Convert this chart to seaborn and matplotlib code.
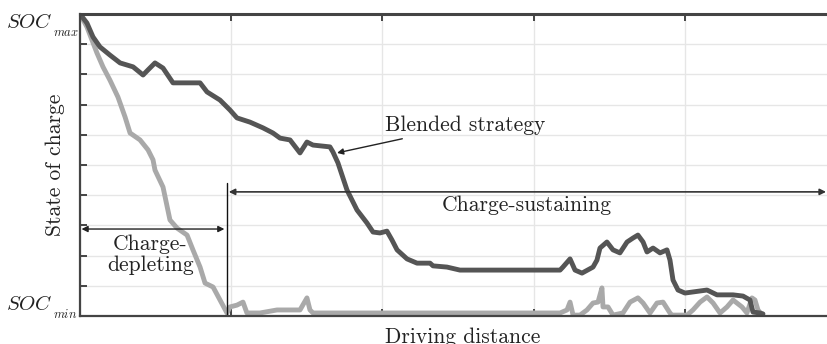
import matplotlib
matplotlib.use("Agg")
import matplotlib.pyplot as plt
import seaborn as sns
import pandas as pd

# ---- data (distance in arbitrary units, SOC in % between SOC_min=0 and SOC_max=100)
blended_x = [0, 4.6, 8.6, 13.2, 19.8, 26.5, 35.1, 41.7, 45.0, 49.6, 54.9, 61.5, 70.8, 79.4,
             84.0, 92.6, 99.2, 103.8, 112.4, 121.0, 127.6, 132.3, 138.9, 145.5, 150.1, 154.1,
             165.3, 167.3, 170.6, 176.6, 183.2, 189.8, 193.8, 198.4, 203.0, 206.3, 209.7,
             216.3, 222.9, 231.5, 233.5, 242.7, 251.3, 286.4, 317.5, 319.4, 324.1, 327.4,
             332.0, 339.3, 341.9, 343.9, 348.5, 352.5, 357.1, 361.8, 365.7, 369.0, 372.4,
             375.0, 379.0, 383.6, 388.2, 390.2, 392.2, 395.5, 400.1, 414.7, 421.3, 431.9,
             438.5, 443.1, 445.1, 449.7, 451.7]
blended_soc = [100, 97.0, 92.4, 89.1, 86.4, 83.8, 82.5, 79.8, 81.5, 83.8, 82.1, 77.2, 77.2, 77.2,
               74.2, 71.5, 68.2, 65.6, 64.2, 62.3, 60.6, 58.9, 58.3, 54.0, 57.6, 56.6,
               56.0, 54.3, 50.7, 41.7, 35.1, 30.8, 27.8, 27.5, 28.1, 25.2, 21.9,
               18.9, 17.5, 17.5, 16.6, 16.2, 15.2, 15.2, 15.2, 16.2, 18.9, 15.2,
               14.2, 16.2, 18.5, 22.5, 24.5, 21.9, 20.9, 24.5, 25.8, 26.8, 24.5,
               21.2, 22.5, 20.9, 21.9, 18.5, 11.9, 8.6, 7.6, 8.6, 7.0, 7.0,
               6.6, 5.3, 1.3, 1.0, 0.7]

cdcs_x = [0, 4.6, 7.9, 11.2, 15.2, 19.8, 25.1, 29.8, 33.1, 39.7, 45.0, 48.3, 49.6, 54.9,
          59.5, 64.2, 70.8, 74.7, 79.4, 82.7, 88.0, 92.6, 97.2, 99.2, 103.8, 107.8, 110.4,
          119.0, 130.3, 145.5, 150.1, 152.1, 154.1, 317.5, 322.1, 324.1, 326.1, 330.7,
          335.3, 339.3, 342.6, 345.2, 345.9, 349.2, 352.5, 359.1, 363.8, 369.0, 372.4,
          377.0, 381.6, 385.6, 390.2, 391.5, 401.5, 405.4, 410.1, 414.7, 418.7, 423.3,
          427.9, 431.9, 437.8, 441.1, 444.4, 446.4, 448.4, 451.1]
cdcs_soc = [100, 95.7, 91.4, 87.1, 82.5, 78.1, 72.5, 65.9, 60.6, 58.3, 55.0, 51.7, 48.3, 42.7,
            31.8, 29.1, 26.8, 21.9, 16.2, 10.9, 9.6, 5.3, 1.0, 3.0, 3.6, 4.6, 1.0,
            1.0, 2.0, 2.0, 6.0, 2.0, 1.0, 1.0, 2.0, 4.6, 0.3, 0.3,
            2.0, 4.3, 4.6, 9.3, 3.0, 3.0, 0.3, 1.0, 4.6, 6.0, 4.3,
            1.0, 4.3, 4.6, 1.0, 0.3, 0.3, 2.0, 4.6, 6.3, 4.3, 1.0,
            3.0, 5.3, 3.0, 1.0, 6.0, 5.3, 2.0, 0.3]

x_ticks = [0, 100, 200, 300, 400, 500]
y_ticks = list(range(0, 101, 10))

# ---- style
sns.set_style("whitegrid")
plt.rcParams["font.family"] = ["cmr10", "DejaVu Serif"]
plt.rcParams["mathtext.fontset"] = "cm"
plt.rcParams["axes.unicode_minus"] = False
plt.rcParams["axes.formatter.use_mathtext"] = True

FS = 15.5
TXT = "#222222"

fig = plt.figure(figsize=(8.27, 3.44), dpi=100)
ax = fig.add_axes([80 / 827, 28 / 344, 766 / 827, 302 / 344])

df_b = pd.DataFrame({"x": blended_x, "soc": blended_soc})
df_c = pd.DataFrame({"x": cdcs_x, "soc": cdcs_soc})
sns.lineplot(data=df_c, x="x", y="soc", ax=ax, color="#a9a9a9", lw=3.5,
             sort=False, estimator=None, solid_joinstyle="round", solid_capstyle="round")
sns.lineplot(data=df_b, x="x", y="soc", ax=ax, color="#555555", lw=3.5,
             sort=False, estimator=None, solid_joinstyle="round", solid_capstyle="round")

ax.set_xlim(0, 766 / 1.512)
ax.set_ylim(0, 100)
ax.set_xticks(x_ticks)
ax.set_yticks(y_ticks)
ax.set_xticklabels([])
ax.set_yticklabels([])
ax.grid(True, color="#e6e6e6", lw=1.0)
ax.tick_params(axis="both", direction="in", length=5, width=1.4, color="#444444",
               top=True, bottom=True, left=True, right=False)
for s in ["left", "bottom", "top"]:
    ax.spines[s].set_color("#444444")
    ax.spines[s].set_linewidth(1.6)
ax.spines["top"].set_linewidth(2.2)
ax.spines["right"].set_visible(False)

ax.set_xlabel("Driving distance", fontsize=FS, labelpad=5, color=TXT)
ax.set_ylabel("State of charge", fontsize=FS, labelpad=7, color=TXT)

# SOC labels: italic "SOC" with a tiny lowered subscript
ax.text(-28 / 766, 1 - 14 / 302, r"$SOC$", transform=ax.transAxes, ha="right", va="baseline",
        fontsize=15, color=TXT)
ax.text(-27 / 766, 1 - 22.5 / 302, r"$max$", transform=ax.transAxes, ha="left", va="baseline",
        fontsize=9, color=TXT)
ax.text(-28 / 766, 6 / 302, r"$SOC$", transform=ax.transAxes, ha="right", va="baseline",
        fontsize=15, color=TXT)
ax.text(-27 / 766, -1.5 / 302, r"$min$", transform=ax.transAxes, ha="left", va="baseline",
        fontsize=9, color=TXT)

# annotations
ax.plot([97.2, 97.2], [0, 44.0], color="#111111", lw=1.0)
ax.annotate("", xy=(98.4, 41.1), xytext=(493.4, 41.1),
            arrowprops=dict(arrowstyle="<|-|>", color="#333333", lw=1.2, mutation_scale=9,
                            shrinkA=0, shrinkB=0))
ax.annotate("", xy=(1.0, 28.8), xytext=(95.5, 28.8),
            arrowprops=dict(arrowstyle="<|-|>", color="#222222", lw=1.0, mutation_scale=9,
                            shrinkA=0, shrinkB=0))
ax.text(46.5, 20.3, "Charge-\ndepleting", ha="center", va="center", fontsize=FS,
        linespacing=1.15, color=TXT)
ax.text(295.6, 36.8, "Charge-sustaining", ha="center", va="center", fontsize=FS,
        color=TXT)
ax.annotate("Blended strategy", xy=(170.0, 54.0), xytext=(201.7, 63.2),
            ha="left", va="center", fontsize=FS, color=TXT,
            arrowprops=dict(arrowstyle="-|>", color="#222222", lw=1.0, mutation_scale=9,
                            shrinkA=2, shrinkB=0))

fig.savefig("out.png", dpi=100)
